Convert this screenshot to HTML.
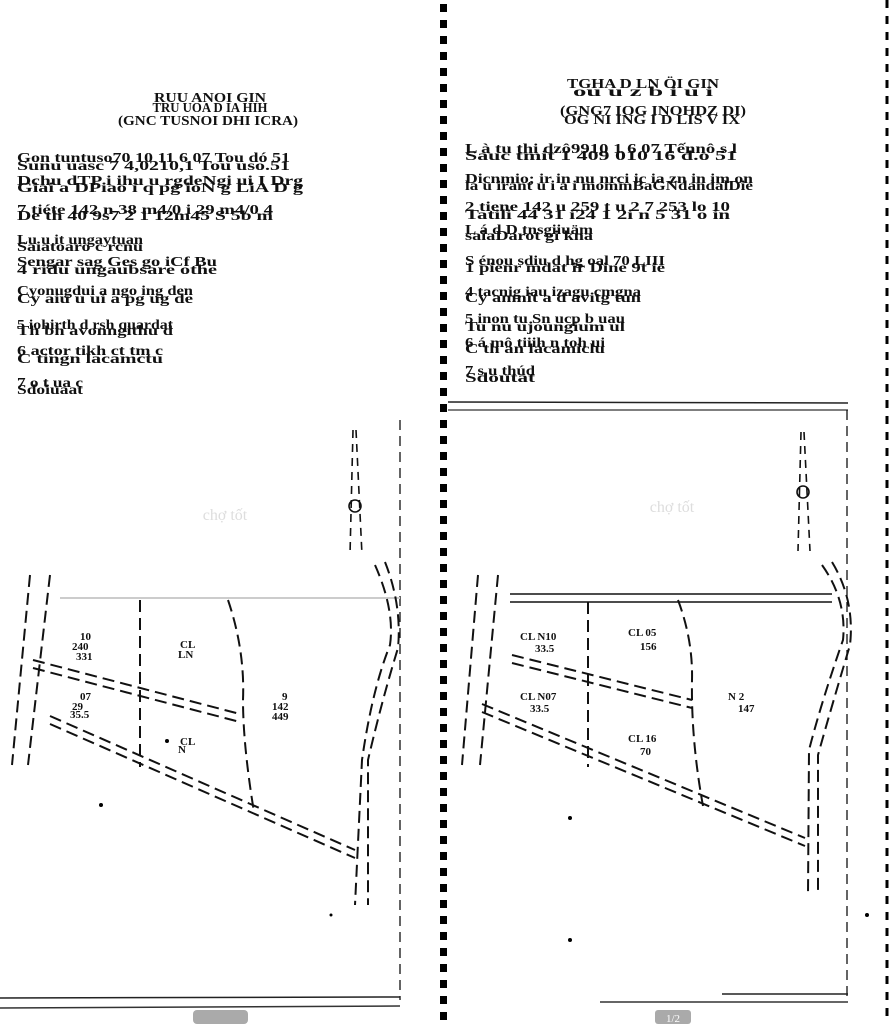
<!DOCTYPE html>
<html><head><meta charset="utf-8"><style>
html,body{margin:0;padding:0;background:#fff;width:890px;height:1024px;overflow:hidden}
svg{display:block}
text{font-family:"Liberation Serif",serif;fill:#111}
</style></head><body>
<svg width="890" height="1024" viewBox="0 0 890 1024" xmlns="http://www.w3.org/2000/svg">
<defs>
<pattern id="sq" x="0" y="0" width="8" height="16" patternUnits="userSpaceOnUse"><rect x="0" y="4" width="7" height="8" fill="#000"/></pattern>
</defs>
<rect width="890" height="1024" fill="#fff"/>
<rect x="440" y="0" width="7" height="1024" fill="url(#sq)"/>
<line x1="887" y1="0" x2="887" y2="1024" stroke="#000" stroke-width="3" stroke-dasharray="8 8"/>

<g font-size="14" font-weight="bold">
<text x="210" y="102" text-anchor="middle" textLength="112" lengthAdjust="spacingAndGlyphs">RUU ANOI GIN</text>
<text x="210" y="112" text-anchor="middle" textLength="115" lengthAdjust="spacingAndGlyphs">TRU UOA D IA HIH</text>
<text x="208" y="125" text-anchor="middle" textLength="180" lengthAdjust="spacingAndGlyphs">(GNC TUSNOI DHI ICRA)</text>
</g>
<g font-size="14" font-weight="bold">
<text x="17" y="162" textLength="273" lengthAdjust="spacingAndGlyphs">Gon tuntuso70 10 11 6 07 Tou dó 51</text>
<text x="17" y="170" textLength="273" lengthAdjust="spacingAndGlyphs">Sunu uasc 7 4,0210,1 Tou uso.51</text>
<text x="17" y="185" textLength="286" lengthAdjust="spacingAndGlyphs">Dchu dTP i ihu u rgdeNgi ui I Drg</text>
<text x="17" y="192" textLength="286" lengthAdjust="spacingAndGlyphs">Giai a DPiao i q pg ioN g LiA D g</text>
<text x="17" y="214" textLength="256" lengthAdjust="spacingAndGlyphs">7 tiéte 142 n 38 m4/0 i 29 m4/0 4</text>
<text x="17" y="220" textLength="256" lengthAdjust="spacingAndGlyphs">De th 40 9s7 2 1 12m45 S 5b m</text>
<text x="17" y="244" textLength="126" lengthAdjust="spacingAndGlyphs">Lu u it ungaytuan</text>
<text x="17" y="251" textLength="126" lengthAdjust="spacingAndGlyphs">Saiatoaro c rcnu</text>
<text x="17" y="266" textLength="200" lengthAdjust="spacingAndGlyphs">Sengar sag Ges go iCf Bu</text>
<text x="17" y="274" textLength="200" lengthAdjust="spacingAndGlyphs">4 ridu ungaubsare othe</text>
<text x="17" y="295" textLength="176" lengthAdjust="spacingAndGlyphs">Cyonugdui a ngo ing den</text>
<text x="17" y="303" textLength="176" lengthAdjust="spacingAndGlyphs">Cy aiu u ui a pg ug de</text>
<text x="17" y="329" textLength="156" lengthAdjust="spacingAndGlyphs">5 iohirth d rsh quardat</text>
<text x="17" y="335" textLength="156" lengthAdjust="spacingAndGlyphs">Th bh avonngithu d</text>
<text x="17" y="355" textLength="146" lengthAdjust="spacingAndGlyphs">6 actor tikh ct tm c</text>
<text x="17" y="363" textLength="146" lengthAdjust="spacingAndGlyphs">C tingn lacamctu</text>
<text x="17" y="387" textLength="66" lengthAdjust="spacingAndGlyphs">7 o t ua c</text>
<text x="17" y="394" textLength="66" lengthAdjust="spacingAndGlyphs">Sdoiuaat</text>
</g>

<g font-size="14" font-weight="bold">
<text x="643" y="88" text-anchor="middle" textLength="152" lengthAdjust="spacingAndGlyphs">TGHA D LN ÖI GIN</text>
<text x="643" y="96" text-anchor="middle" textLength="140" lengthAdjust="spacingAndGlyphs">ou u z b i u i</text>
<text x="653" y="115" text-anchor="middle" textLength="186" lengthAdjust="spacingAndGlyphs">(GNG7 IOG INOHDZ DI)</text>
<text x="652" y="124" text-anchor="middle" textLength="176" lengthAdjust="spacingAndGlyphs">OG NI ING I D LIS V IX</text>
</g>
<g font-size="14" font-weight="bold">
<text x="465" y="153" textLength="272" lengthAdjust="spacingAndGlyphs">L à tu thi dzô9910 1 6 07 Tếnnô s l</text>
<text x="465" y="160" textLength="272" lengthAdjust="spacingAndGlyphs">Sauc tmit 1 409 010 16 d.o 51</text>
<text x="465" y="183" textLength="288" lengthAdjust="spacingAndGlyphs">Dicnmio; ir in nu nrci ic ia zn in im on</text>
<text x="465" y="190" textLength="288" lengthAdjust="spacingAndGlyphs">la u irant u i a i mommBaGNdandalDie</text>
<text x="465" y="211" textLength="265" lengthAdjust="spacingAndGlyphs">2 tiene 142 u 259 t u 2 7 253 lo 10</text>
<text x="465" y="219" textLength="265" lengthAdjust="spacingAndGlyphs">Tatili 44 31 i24 1 2i n 5 31 o in</text>
<text x="465" y="234" textLength="128" lengthAdjust="spacingAndGlyphs">L á d D tnsgiiuäm</text>
<text x="465" y="240" textLength="128" lengthAdjust="spacingAndGlyphs">saiaDarot gi kna</text>
<text x="465" y="265" textLength="200" lengthAdjust="spacingAndGlyphs">S énou sdiu d hg oal 70 LIII</text>
<text x="465" y="272" textLength="200" lengthAdjust="spacingAndGlyphs">1 pienr mdat ir Dine 9t ie</text>
<text x="465" y="296" textLength="176" lengthAdjust="spacingAndGlyphs">4 tacnig iau izagu cmgna</text>
<text x="465" y="302" textLength="176" lengthAdjust="spacingAndGlyphs">Cy amnit a d avitg tun</text>
<text x="465" y="323" textLength="160" lengthAdjust="spacingAndGlyphs">5 inon tu Sn ucp b uau</text>
<text x="465" y="331" textLength="160" lengthAdjust="spacingAndGlyphs">Tu nu ujoungium ul</text>
<text x="465" y="347" textLength="140" lengthAdjust="spacingAndGlyphs">6 á mô tiiih n toh ui</text>
<text x="465" y="353" textLength="140" lengthAdjust="spacingAndGlyphs">C th an lácamiclu</text>
<text x="465" y="375" textLength="70" lengthAdjust="spacingAndGlyphs">7 s u thúd</text>
<text x="465" y="382" textLength="70" lengthAdjust="spacingAndGlyphs">Sdoutat</text>
</g>
<line x1="448" y1="402" x2="848" y2="403" stroke="#222" stroke-width="1.5"/>
<line x1="448" y1="410" x2="848" y2="410" stroke="#333" stroke-width="1.2"/>

<g fill="none" stroke="#111" stroke-width="2" stroke-dasharray="12 6">
<line x1="400" y1="420" x2="400" y2="1000" stroke-width="1.3" stroke-dasharray="10 6"/>
<line x1="60" y1="598" x2="400" y2="598" stroke="#ccc" stroke-width="2" stroke-dasharray="none"/>
<line x1="140" y1="600" x2="140" y2="767"/>
<path d="M228,600 Q245,650 243,700 Q243,745 254,812"/>
<line x1="33" y1="660" x2="240" y2="714"/>
<line x1="33" y1="668" x2="240" y2="722"/>
<line x1="50" y1="716" x2="355" y2="850"/>
<line x1="50" y1="724" x2="355" y2="858"/>
<line x1="30" y1="575" x2="12" y2="765"/>
<line x1="50" y1="575" x2="28" y2="765"/>
<path d="M375,565 Q395,610 390,645 Q372,690 362,760 L355,905"/>
<path d="M385,562 Q402,605 398,648 Q382,700 368,760 L368,905"/>
<path d="M353,430 L350,555 M356,430 L362,555" stroke-width="1.6" stroke-dasharray="8 6"/>
<circle cx="355" cy="506" r="6" stroke-width="1.6" stroke-dasharray="none"/>

<line x1="847" y1="410" x2="847" y2="1000" stroke-width="1.3" stroke-dasharray="10 6"/>
<line x1="510" y1="594" x2="832" y2="594" stroke-dasharray="none" stroke-width="1.6"/>
<line x1="510" y1="602" x2="832" y2="602" stroke-dasharray="none" stroke-width="1.6"/>
<line x1="588" y1="602" x2="588" y2="767"/>
<path d="M678,600 Q693,640 692,680 Q691,740 703,806"/>
<line x1="512" y1="655" x2="692" y2="700"/>
<line x1="512" y1="663" x2="692" y2="708"/>
<line x1="482" y1="704" x2="805" y2="838"/>
<line x1="482" y1="712" x2="805" y2="846"/>
<line x1="478" y1="575" x2="462" y2="765"/>
<line x1="498" y1="575" x2="480" y2="765"/>
<path d="M822,565 Q847,600 843,640 Q822,700 809,750 L808,895"/>
<path d="M832,562 Q855,600 850,645 Q832,705 818,755 L818,895"/>
<path d="M801,432 L798,551 M804,432 L810,551" stroke-width="1.6" stroke-dasharray="8 6"/>
<circle cx="803" cy="492" r="6" stroke-width="1.6" stroke-dasharray="none"/>
</g>

<line x1="0" y1="998" x2="400" y2="997" stroke="#222" stroke-width="1.5"/>
<line x1="0" y1="1008" x2="400" y2="1006" stroke="#333" stroke-width="1.5"/>
<line x1="722" y1="994" x2="848" y2="994" stroke="#222" stroke-width="1.5"/>
<line x1="600" y1="1002" x2="848" y2="1002" stroke="#333" stroke-width="1.5"/>

<g font-size="11" font-weight="bold">
<text x="80" y="640">10</text><text x="72" y="650">240</text><text x="76" y="660">331</text>
<text x="80" y="700">07</text><text x="72" y="710">29</text><text x="70" y="718">35.5</text>
<text x="180" y="648">CL</text><text x="178" y="658">LN</text>
<text x="180" y="745">CL</text><text x="178" y="753">N</text>
<text x="282" y="700">9</text><text x="272" y="710">142</text><text x="272" y="720">449</text>
<text x="520" y="640">CL N10</text><text x="535" y="652">33.5</text>
<text x="628" y="636">CL 05</text><text x="640" y="650">156</text>
<text x="520" y="700">CL N07</text><text x="530" y="712">33.5</text>
<text x="628" y="742">CL 16</text><text x="640" y="755">70</text>
<text x="728" y="700">N 2</text><text x="738" y="712">147</text>
</g>
<text x="225" y="520" font-size="16" style="fill:#ddd" text-anchor="middle">chợ tốt</text>
<text x="672" y="512" font-size="16" style="fill:#ddd" text-anchor="middle">chợ tốt</text>
<g fill="#000"><circle cx="101" cy="805" r="2"/><circle cx="167" cy="741" r="2"/><circle cx="570" cy="818" r="2"/><circle cx="570" cy="940" r="2"/><circle cx="867" cy="915" r="2"/><circle cx="331" cy="915" r="1.5"/></g>
<rect x="193" y="1010" width="55" height="14" rx="4" fill="#aaa"/>
<rect x="655" y="1010" width="36" height="14" rx="3" fill="#aaa"/>
<text x="673" y="1022" font-size="11" text-anchor="middle" style="fill:#fff">1/2</text>
</svg>
</body></html>
